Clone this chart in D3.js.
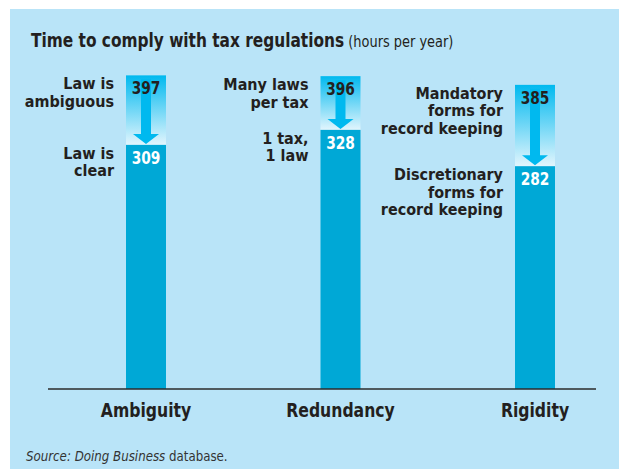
<!DOCTYPE html>
<html>
<head>
<meta charset="utf-8">
<script src="https://cdn.jsdelivr.net/npm/d3@7"></script>
<style>
    body { margin: 0; background: #fff; }
    #chart { width: 619px; height: 469px; }
    text { font-family: "DejaVu Sans Condensed", "Open Sans", sans-serif; }
</style>
</head>
<body>
<div id="chart"></div>
<script>
//Datos
const categories = ['Ambiguity', 'Redundancy', 'Rigidity'];
const before = [397, 396, 385];
const after = [309, 328, 282];
const beforeLabels = [['Law is', 'ambiguous'], ['Many laws', 'per tax'], ['Mandatory', 'forms for', 'record keeping']];
const afterLabels = [['Law is', 'clear'], ['1 tax,', '1 law'], ['Discretionary', 'forms for', 'record keeping']];

//Colores
const COLOR_BG = '#b9e4f8',
COLOR_BAR = '#00a8d6',
COLOR_ARROW = '#00b9ef',
COLOR_TEXT = '#231f20';

let width = 619, height = 469;
let baseY = 389;

let svg = d3.select('#chart')
    .append('svg')
      .attr('width', width)
      .attr('height', height);

//Fondo
svg.append('rect')
    .attr('x', 10).attr('y', 9)
    .attr('width', width - 10).attr('height', height - 9)
    .attr('fill', COLOR_BG);

//Degradado de la parte superior
let grad = svg.append('defs').append('linearGradient')
    .attr('id', 'grad')
    .attr('x1', 0).attr('y1', 0).attr('x2', 0).attr('y2', 1);
grad.append('stop').attr('offset', '0%').attr('stop-color', '#00b9ef');
grad.append('stop').attr('offset', '100%').attr('stop-color', '#e2f5fd');

let x = d3.scalePoint()
    .domain(categories)
    .range([146, 535]);

let y = d3.scaleLinear()
    .domain([0, 400])
    .range([baseY, baseY - 316]);

let barW = 40;

//Texto estrecho (la fuente original es condensada)
function tr(px, py, sx) {
    return 'translate(' + px + ',' + py + ') scale(' + sx + ',1)';
}

//Titulo
let title = svg.append('text')
    .attr('transform', tr(31, 47, 0.9))
    .attr('fill', COLOR_TEXT);
title.append('tspan').attr('font-weight', 'bold').attr('font-size', 19).text('Time to comply with tax regulations');
title.append('tspan').attr('font-size', 16).text(' (hours per year)');

let g = svg.selectAll('.cat')
    .data(categories)
    .enter()
    .append('g')
    .attr('class', 'cat');

//Parte superior (antes)
g.append('rect')
    .attr('x', function(d) { return x(d) - barW / 2; })
    .attr('y', function(d, i) { return y(before[i]); })
    .attr('width', barW)
    .attr('height', function(d, i) { return y(after[i]) - y(before[i]); })
    .attr('fill', 'url(#grad)');

//Barra (despues)
g.append('rect')
    .attr('x', function(d) { return x(d) - barW / 2; })
    .attr('y', function(d, i) { return y(after[i]); })
    .attr('width', barW)
    .attr('height', function(d, i) { return baseY - y(after[i]); })
    .attr('fill', COLOR_BAR);

//Flecha
g.append('path')
    .attr('fill', COLOR_ARROW)
    .attr('d', function(d, i) {
        let cx = x(d), top = y(before[i]) + 4, tip = y(after[i]) - 1;
        let headTop = tip - 10;
        return 'M' + (cx - 5) + ',' + top + 'L' + (cx + 5) + ',' + top +
            'L' + (cx + 5) + ',' + headTop + 'L' + (cx + 13) + ',' + headTop +
            'L' + cx + ',' + tip + 'L' + (cx - 13) + ',' + headTop +
            'L' + (cx - 5) + ',' + headTop + 'Z';
    });

//Valores
g.append('text')
    .attr('transform', function(d, i) { return tr(x(d), y(before[i]) + 19, 0.85); })
    .attr('text-anchor', 'middle')
    .attr('font-weight', 'bold')
    .attr('font-size', 18)
    .attr('fill', COLOR_TEXT)
    .text(function(d, i) { return before[i]; });

g.append('text')
    .attr('transform', function(d, i) { return tr(x(d), y(after[i]) + 19, 0.85); })
    .attr('text-anchor', 'middle')
    .attr('font-weight', 'bold')
    .attr('font-size', 18)
    .attr('fill', '#fff')
    .text(function(d, i) { return after[i]; });

//Etiquetas
function addLabel(sel, labels, values) {
    sel.each(function(d, i) {
        let cell = d3.select(this);
        labels[i].forEach(function(l, j) {
            cell.append('text')
                .attr('transform', tr(x(d) - barW / 2 - 12, y(values[i]) + 14 + j * 17.5, 0.97))
                .attr('text-anchor', 'end')
                .attr('font-weight', 'bold')
                .attr('font-size', 16.5)
                .attr('fill', COLOR_TEXT)
                .text(l);
        });
    });
}
addLabel(g, beforeLabels, before);
addLabel(g, afterLabels, after);

//Eje
svg.append('line')
    .attr('x1', 48).attr('x2', 596)
    .attr('y1', baseY).attr('y2', baseY)
    .attr('stroke', '#2b2b2b')
    .attr('stroke-width', 1.6);

g.append('text')
    .attr('transform', function(d) { return tr(x(d), 417, 0.87); })
    .attr('text-anchor', 'middle')
    .attr('font-weight', 'bold')
    .attr('font-size', 20)
    .attr('fill', COLOR_TEXT)
    .text(function(d) { return d; });

//Fuente
let src = svg.append('text')
    .attr('transform', tr(26, 461, 0.94))
    .attr('font-size', 14)
    .attr('fill', '#333');
src.append('tspan').attr('font-style', 'italic').text('Source: Doing Business');
src.append('tspan').text(' database.');
</script>
</body>
</html>
